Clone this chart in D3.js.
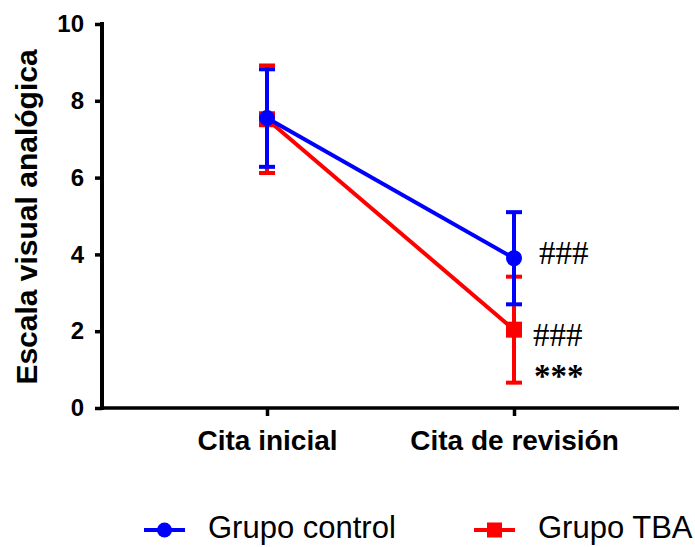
<!DOCTYPE html>
<html>
<head>
<meta charset="utf-8">
<script src="https://cdn.jsdelivr.net/npm/d3@7"></script>
<style>
  html, body { margin: 0; padding: 0; background: #fff; }
  svg { display: block; }
</style>
</head>
<body>
<svg id="svg" width="695" height="547"></svg>
<script>
// data (mean ± SD)
const categories  = ['Cita inicial', 'Cita de revisión'];
const controlMean = [7.55, 3.90];
const controlErr  = [1.27, 1.20];
const tbaMean     = [7.52, 2.04];
const tbaErr      = [1.40, 1.38];
const yTicks      = [0, 2, 4, 6, 8, 10];
const seriesNames = ['Grupo control', 'Grupo TBA'];
// significance marks: [series index, category index, label]
const marks = [
  [0, 1, '###'],
  [1, 1, '###'],
  [1, 1, '***']
];

const BLUE = '#0000ff', RED = '#ff0000';
const svg = d3.select('#svg');

const x = d3.scalePoint().domain(categories).range([102, 679]).padding(0.668);
const y = d3.scaleLinear().domain([0, 10]).range([408, 24]);

// AXES
const yAx = svg.append('g').attr('transform', 'translate(102,0)')
  .call(d3.axisLeft(y).tickValues(yTicks).tickSize(7).tickSizeOuter(0).tickPadding(11));
yAx.select('.domain').attr('stroke-width', 4).attr('d', `M0,${y(10) - 2}V${y(0) + 2}`);
yAx.selectAll('.tick line').attr('stroke-width', 3.5);
yAx.selectAll('.tick text')
  .attr('font-family', 'Liberation Sans, Arial, sans-serif')
  .attr('font-weight', 'bold').attr('font-size', '24px').attr('fill', '#000');

const xAx = svg.append('g').attr('transform', 'translate(0,408)')
  .call(d3.axisBottom(x).tickSize(8).tickSizeOuter(0).tickPadding(14));
xAx.select('.domain').attr('stroke-width', 3.5).attr('d', 'M100,0H679');
xAx.selectAll('.tick line').attr('stroke-width', 3.5);
xAx.selectAll('.tick text')
  .attr('font-family', 'Liberation Sans, Arial, sans-serif')
  .attr('font-weight', 'bold').attr('font-size', '28px').attr('fill', '#000');

svg.append('text')
  .attr('transform', 'translate(37,217) rotate(-90)')
  .attr('text-anchor', 'middle')
  .attr('font-family', 'Liberation Sans, Arial, sans-serif')
  .attr('font-weight', 'bold').attr('font-size', '30px')
  .text('Escala visual analógica');

// SERIES (TBA first, control drawn on top)
const series = [
  { mean: tbaMean, err: tbaErr, color: RED, shape: 'square' },
  { mean: controlMean, err: controlErr, color: BLUE, shape: 'circle' }
];

series.forEach(s => {
  const pts = categories.map((c, i) => ({ c, m: s.mean[i], e: s.err[i] }));
  const g = svg.append('g');

  g.append('path').datum(pts)
    .attr('fill', 'none').attr('stroke', s.color).attr('stroke-width', 4)
    .attr('d', d3.line().x(d => x(d.c)).y(d => y(d.m)));

  g.selectAll('.eb').data(pts).join('line').attr('class', 'eb')
    .attr('x1', d => x(d.c)).attr('x2', d => x(d.c))
    .attr('y1', d => y(d.m - d.e)).attr('y2', d => y(d.m + d.e))
    .attr('stroke', s.color).attr('stroke-width', 4);

  [1, -1].forEach((sign, k) => {
    g.selectAll('.cap' + k).data(pts).join('line').attr('class', 'cap' + k)
      .attr('x1', d => x(d.c) - 8).attr('x2', d => x(d.c) + 8)
      .attr('y1', d => y(d.m + sign * d.e))
      .attr('y2', d => y(d.m + sign * d.e))
      .attr('stroke', s.color).attr('stroke-width', 4);
  });

  if (s.shape === 'circle') {
    g.selectAll('.pt').data(pts).join('circle')
      .attr('cx', d => x(d.c)).attr('cy', d => y(d.m)).attr('r', 8)
      .attr('fill', s.color);
  } else {
    g.selectAll('.pt').data(pts).join('rect')
      .attr('x', d => x(d.c) - 8).attr('y', d => y(d.m) - 8)
      .attr('width', 16).attr('height', 16)
      .attr('fill', s.color);
  }
});

// SIGNIFICANCE MARKS
const allMeans = [controlMean, tbaMean];
const markOffset = [[25, 6], [19, 16], [20, 57]];
marks.forEach((m, i) => {
  svg.append('text')
    .attr('x', x(categories[m[1]]) + markOffset[i][0])
    .attr('y', y(allMeans[m[0]][m[1]]) + markOffset[i][1])
    .attr('font-family', 'Liberation Serif, Times New Roman, serif')
    .attr('font-size', '33px').attr('fill', '#000')
    .attr('font-weight', i === 2 ? 'bold' : 'normal')
    .text(m[2]);
});

// LEGEND
const legX = [144, 474];
seriesNames.forEach((name, i) => {
  const lg = svg.append('g').attr('transform', `translate(${legX[i]},530)`);
  const col = i === 0 ? BLUE : RED;
  lg.append('line').attr('x1', 0).attr('x2', 41).attr('stroke', col).attr('stroke-width', 4);
  if (i === 0) lg.append('circle').attr('cx', 20.5).attr('r', 7.5).attr('fill', col);
  else lg.append('rect').attr('x', 13).attr('y', -7.5).attr('width', 15).attr('height', 15).attr('fill', col);
  lg.append('text').attr('x', 64).attr('y', 8)
    .attr('font-family', 'Liberation Sans, Arial, sans-serif')
    .attr('font-size', '31px').attr('fill', '#000')
    .text(name);
});
</script>
</body>
</html>
